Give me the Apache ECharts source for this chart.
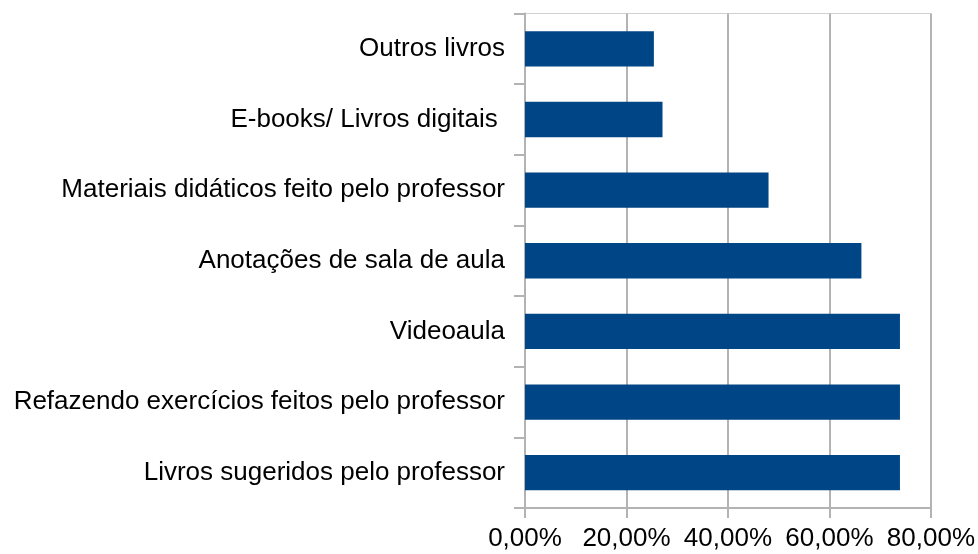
<!DOCTYPE html>
<html>
<head>
<meta charset="utf-8">
<script src="https://cdn.jsdelivr.net/npm/echarts@6/dist/echarts.min.js"></script>
<style>
  html, body { margin: 0; padding: 0; background: #fff; }
  #chart { width: 978px; height: 554px; }
</style>
</head>
<body>
<div id="chart"></div>
<script>
// categories from bottom to top (category axis starts at the bottom)
let categories = [
  'Livros sugeridos pelo professor',
  'Refazendo exercícios feitos pelo professor',
  'Videoaula',
  'Anotações de sala de aula',
  'Materiais didáticos feito pelo professor',
  'E-books/ Livros digitais ',
  'Outros livros'
]
let percentValues = [73.9, 73.9, 73.9, 66.3, 48.0, 27.1, 25.4]
let xTicks = [0, 20, 40, 60, 80]

let chart = echarts.init(document.getElementById('chart'))

let option = {
  animation: false,
  grid: {
    left: 525,
    right: 46,
    top: 13.5,
    bottom: 46,
    show: true,
    borderColor: '#d0d0d0',
    borderWidth: 1
  },
  xAxis: {
    type: 'value',
    min: xTicks[0],
    max: xTicks[xTicks.length - 1],
    interval: 20,
    axisLine: {
      show: true,
      lineStyle: { color: '#b3b3b3', width: 2 }
    },
    axisTick: {
      show: true,
      length: 10,
      lineStyle: { color: '#b3b3b3', width: 2 }
    },
    splitLine: {
      lineStyle: { color: '#b3b3b3', width: 2 }
    },
    axisLabel: {
      margin: 18,
      color: '#000',
      fontFamily: 'Liberation Sans',
      fontSize: 26,
      formatter(v) {
        return v.toFixed(2).replace('.', ',') + '%'
      }
    }
  },
  yAxis: {
    type: 'category',
    data: categories,
    axisLine: {
      lineStyle: { color: '#b3b3b3', width: 2 }
    },
    axisTick: {
      show: true,
      length: 11,
      lineStyle: { color: '#b3b3b3', width: 2 }
    },
    axisLabel: {
      margin: 20,
      color: '#000',
      fontFamily: 'Liberation Sans',
      fontSize: 26
    }
  },
  series: [
    {
      type: 'bar',
      data: percentValues,
      barWidth: '50%',
      itemStyle: { color: '#004586' }
    }
  ]
}

chart.setOption(option)
</script>
</body>
</html>
